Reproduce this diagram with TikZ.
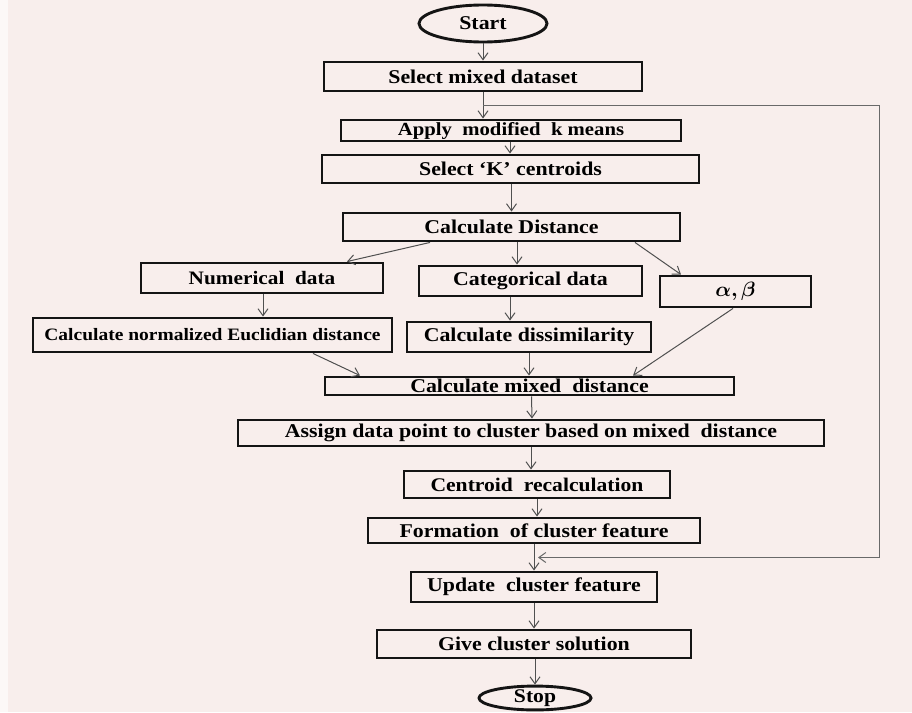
\documentclass[tikz,border=0pt]{standalone}
\usepackage{fontspec}
\usepackage{amsmath}
\usepackage{bm}
\newfontfamily\boxfont{Liberation Serif}[FakeStretch=1.12]
\usetikzlibrary{shapes.geometric,arrows.meta,calc}
\definecolor{bgpink}{RGB}{248,238,236}
\definecolor{arrgray}{RGB}{80,80,80}
\definecolor{loopgray}{RGB}{105,105,105}
\begin{document}
\begin{tikzpicture}[x=1pt,y=-1pt,
  sz/.style n args={2}{minimum width=#1pt, minimum height=#2pt},
  box/.style={draw=black!92, line width=2.9pt, inner sep=0pt, rectangle,
    font=\boxfont\bfseries\fontsize{19.5}{22}\selectfont},
  oval/.style={ellipse, draw=black!92, line width=2.9pt, inner sep=0pt,
    font=\boxfont\bfseries\fontsize{19.5}{22}\selectfont},
  arr/.style={draw=arrgray, line width=1pt, -{Straight Barb[length=7pt,width=10pt]}},
  looparr/.style={draw=loopgray, line width=1pt, -{Straight Barb[length=7pt,width=10pt]}}]
\fill[bgpink] (0,0) rectangle (912,712);
\fill[white!60!bgpink] (0,0) rectangle (8,712);
\useasboundingbox (0,0) rectangle (912,712);

% nodes
\node[oval, sz={128}{37}] (start) at (483,23.5) {Start};
\node[box, sz={318}{29}] (sel) at (483,76.5) {Select mixed dataset};
\node[box, sz={340}{21}, font=\boxfont\bfseries\fontsize{18.5}{20}\selectfont] (apply) at (511,130.5) {Apply~~modified~~k means};
\node[box, sz={377}{28}] (selk) at (510.5,169) {Select ‘K’ centroids};
\node[box, sz={337}{28}] (calcd) at (511.5,227) {Calculate Distance};
\node[box, sz={242}{30}, font=\boxfont\bfseries\fontsize{19}{21}\selectfont] (num) at (262,278) {Numerical~~data};
\node[box, sz={223}{30}] (cat) at (530.5,281) {Categorical data};
\node[box, sz={151}{31}, font=\fontsize{20.5}{23}\selectfont] (ab) at (735.5,291.5) {$\bm{\alpha,\beta}$};
\node[box, sz={359}{34}, font=\boxfont\bfseries\fontsize{17.4}{20}\selectfont] (euc) at (212.5,335) {Calculate normalized Euclidian distance};
\node[box, sz={244}{30}] (dis) at (529,337) {Calculate dissimilarity};
\node[box, sz={409}{18}] (mix) at (529.5,386) {Calculate mixed~~distance};
\node[box, sz={586}{26}] (assign) at (531,433) {Assign data point to cluster based on mixed~~distance};
\node[box, sz={266}{27}, font=\boxfont\bfseries\fontsize{19.3}{21}\selectfont] (cent) at (537,484.5) {Centroid~~recalculation};
\node[box, sz={332}{25}] (form) at (534,530.5) {Formation~~of cluster feature};
\node[box, sz={246}{30}] (upd) at (534,587) {Update~~cluster feature};
\node[box, sz={314}{28}] (give) at (534,644) {Give cluster solution};
\node[oval, sz={112}{22}, font=\boxfont\bfseries\fontsize{19.3}{20}\selectfont] (stop) at (535,698) {Stop};

% helper coordinates
\coordinate (lp) at ($(sel.south)!0.5!(sel.south|-apply.north)$);
\coordinate (rx) at (879,0);
\coordinate (lend) at ($([xshift=4pt]form.south)!0.5!([xshift=4pt]upd.north)$);

% connectors
\draw[arr] (start.south) -- (sel.north);
\draw[arr] (sel.south) -- (sel.south|-apply.north);
\draw[arr] ([xshift=-1pt]apply.south) -- ([xshift=-1pt]apply.south|-selk.north);
\draw[arr] ([xshift=1pt]selk.south) -- (calcd.north);
\draw[arr] ([xshift=-81.5pt]calcd.south) -- ([xshift=85pt]num.north);
\draw[arr] ([xshift=5.5pt]calcd.south) -- ([xshift=-13.5pt]cat.north);
\draw[arr] ([xshift=123.5pt]calcd.south) -- ([xshift=-54.5pt]ab.north);
\draw[arr] ([xshift=1pt]num.south) -- ([xshift=50.5pt]euc.north);
\draw[arr] ([xshift=100.5pt]euc.south) -- ([xshift=-169.5pt]mix.north);
\draw[arr] ([xshift=-20.5pt]cat.south) -- ([xshift=-19pt]dis.north);
\draw[arr] (dis.south) -- (dis.south|-mix.north);
\draw[arr] ([xshift=-2.5pt]ab.south) -- ([xshift=103.5pt]mix.north);
\draw[arr] ([xshift=2pt]mix.south) -- ([xshift=1pt]assign.north);
\draw[arr] (assign.south) -- ([xshift=-6pt]cent.north);
\draw[arr] (cent.south) -- ([xshift=3pt]form.north);
\draw[arr] (form.south) -- (upd.north);
\draw[arr] (upd.south) -- (give.north);
\draw[arr] ([xshift=1pt]give.south) -- (stop.north);
\draw[looparr] (lp) -- (lp-|rx) -- (rx|-lend) -- (lend);
\end{tikzpicture}
\end{document}
